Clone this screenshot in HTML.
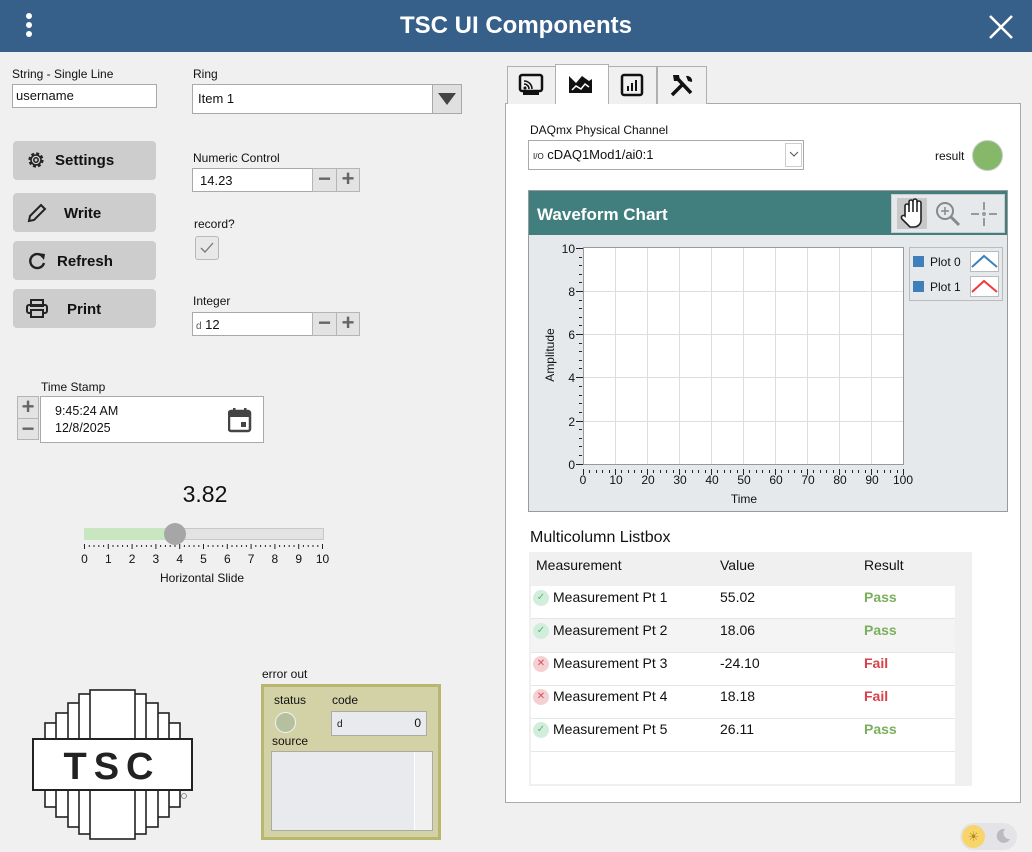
<!DOCTYPE html>
<html><head><meta charset="utf-8"><style>
*{box-sizing:border-box;margin:0;padding:0}
body{width:1032px;height:852px;background:#f0f0f0;font-family:"Liberation Sans",sans-serif;color:#111;position:relative;overflow:hidden}
.a{position:absolute}
.lbl{position:absolute;font-size:12px;white-space:nowrap}
.box{position:absolute;background:#fff;border:1px solid #a9a9a9}
.btn{position:absolute;left:13px;width:143px;height:39px;background:#cdcdcd;border-radius:4px;font-weight:bold;font-size:15px}
.pm{position:absolute;background:#e3e3e3;border:1px solid #b5b5b5;color:#666;font-size:22px;text-align:center;line-height:20px;font-weight:bold}
.tab{position:absolute;background:#f0f0f0;border:1px solid #b0b0b0;border-bottom:none}
.ic{position:absolute;left:0;top:0;width:16px;height:16px;border-radius:8px;font-size:10px;line-height:16px;text-align:center}
.ok{background:#d2eedb;color:#5bb37a}.ng{background:#f5d0d3;color:#d05060}
</style></head><body>
<div class="a" style="left:0;top:0;width:1032px;height:52px;background:#36608a"></div>
<div class="a" style="left:26px;top:13px;width:6px;height:6px;border-radius:3px;background:#fff"></div>
<div class="a" style="left:26px;top:22px;width:6px;height:6px;border-radius:3px;background:#fff"></div>
<div class="a" style="left:26px;top:31px;width:6px;height:6px;border-radius:3px;background:#fff"></div>
<div class="a" style="left:0;top:12px;width:1032px;text-align:center;color:#fff;font-weight:bold;font-size:24px">TSC UI Components</div>
<svg class="a" style="left:988px;top:15px" width="26" height="24"><path d="M2 1L24 23M24 1L2 23" stroke="#fff" stroke-width="2.6"/></svg>

<div class="lbl" style="left:12px;top:67px">String - Single Line</div>
<div class="box" style="left:12px;top:84px;width:145px;height:24px;font-size:13px;padding:3px 3px">username</div>
<div class="lbl" style="left:193px;top:67px">Ring</div>
<div class="box" style="left:192px;top:84px;width:241px;height:30px;font-size:13px;padding:6px 5px">Item 1</div>
<div class="a" style="left:432px;top:84px;width:30px;height:30px;background:#e0e0e0;border:1px solid #a9a9a9"></div>
<svg class="a" style="left:438px;top:93px" width="18" height="12"><path d="M0 0H18L9 12Z" fill="#444"/></svg>

<div class="btn" style="top:141px"><span class="a" style="left:42px;top:11px">Settings</span>
<svg class="a" style="left:13px;top:9px" width="20" height="20" viewBox="0 0 20 20"><circle cx="10" cy="10" r="6.5" fill="none" stroke="#222" stroke-width="2.2" stroke-dasharray="3 2.1"/><circle cx="10" cy="10" r="5" fill="none" stroke="#222" stroke-width="1.6"/><circle cx="10" cy="10" r="2.2" fill="none" stroke="#222" stroke-width="1.5"/></svg></div>
<div class="btn" style="top:193px"><span class="a" style="left:51px;top:12px">Write</span>
<svg class="a" style="left:14px;top:10px" width="20" height="20"><path d="M2 18L3 13L14 2L18 6L7 17Z" fill="none" stroke="#222" stroke-width="2"/></svg></div>
<div class="btn" style="top:241px"><span class="a" style="left:44px;top:12px">Refresh</span>
<svg class="a" style="left:14px;top:10px" width="20" height="20"><path d="M16 6A7 7 0 1 0 17 12" fill="none" stroke="#222" stroke-width="2.4"/><path d="M11 2L18 3L17 9Z" fill="#222"/></svg></div>
<div class="btn" style="top:289px"><span class="a" style="left:54px;top:12px">Print</span>
<svg class="a" style="left:13px;top:10px" width="22" height="20"><rect x="5" y="1" width="12" height="6" fill="none" stroke="#222" stroke-width="2"/><rect x="1" y="6" width="20" height="8" rx="2" fill="none" stroke="#222" stroke-width="2"/><rect x="5" y="11" width="12" height="7" fill="#cdcdcd" stroke="#222" stroke-width="2"/></svg></div>

<div class="lbl" style="left:193px;top:151px">Numeric Control</div>
<div class="box" style="left:192px;top:168px;width:121px;height:24px;font-size:13px;padding:4px 7px">14.23</div>
<div class="pm" style="left:312px;top:168px;width:25px;height:24px">−</div>
<div class="pm" style="left:336px;top:168px;width:24px;height:24px">+</div>
<div class="lbl" style="left:194px;top:217px">record?</div>
<div class="a" style="left:195px;top:236px;width:24px;height:24px;border:1px solid #b8b8b8;border-radius:3px;background:#e8e8e8"></div>
<svg class="a" style="left:199px;top:240px" width="16" height="16"><path d="M2 8L6 12L14 3" fill="none" stroke="#777" stroke-width="1.3"/></svg>
<div class="lbl" style="left:193px;top:294px">Integer</div>
<div class="box" style="left:192px;top:312px;width:121px;height:24px;font-size:13px;padding:4px 3px"><span style="font-size:10px;color:#555">d</span> 12</div>
<div class="pm" style="left:312px;top:312px;width:25px;height:24px">−</div>
<div class="pm" style="left:336px;top:312px;width:24px;height:24px">+</div>

<div class="lbl" style="left:41px;top:380px">Time Stamp</div>
<div class="pm" style="left:17px;top:396px;width:22px;height:23px">+</div>
<div class="pm" style="left:17px;top:418px;width:22px;height:22px">−</div>
<div class="box" style="left:40px;top:396px;width:224px;height:47px;font-size:12.5px;padding:6px 0 0 14px;line-height:17px">9:45:24 AM<br>12/8/2025</div>
<svg class="a" style="left:228px;top:407px" width="24" height="26"><rect x="1" y="4" width="21" height="20" rx="2" fill="none" stroke="#444" stroke-width="2.5"/><rect x="1" y="4" width="21" height="6" fill="#444"/><rect x="5" y="1" width="2.5" height="5" fill="#444"/><rect x="16" y="1" width="2.5" height="5" fill="#444"/><rect x="13" y="15" width="5" height="5" fill="#444"/></svg>

<div class="a" style="left:150px;top:481px;width:110px;text-align:center;font-size:23px">3.82</div>
<div class="a" style="left:84px;top:528px;width:240px;height:12px;background:#e3e3e3;border:1px solid #c8c8c8"></div>
<div class="a" style="left:84px;top:528px;width:91px;height:12px;background:#c8e6c0"></div>
<div class="a" style="left:164px;top:523px;width:22px;height:22px;border-radius:11px;background:#a6a6a6"></div>
<svg class="a" style="left:80px;top:542px" width="250" height="30">
<g stroke="#222" stroke-width="1">
<path d="M4.5 2v5M28.3 2v5M52.1 2v5M75.9 2v5M99.7 2v5M123.5 2v5M147.3 2v5M171.1 2v5M194.9 2v5M218.7 2v5M242.5 2v5"/>
<path d="M9.3 3v2M14 3v2M18.8 3v2M23.6 3v2M33 3v2M37.8 3v2M42.6 3v2M47.4 3v2M56.8 3v2M61.6 3v2M66.4 3v2M71.2 3v2M80.6 3v2M85.4 3v2M90.2 3v2M95 3v2M104.4 3v2M109.2 3v2M114 3v2M118.8 3v2M128.2 3v2M133 3v2M137.8 3v2M142.6 3v2M152 3v2M156.8 3v2M161.6 3v2M166.4 3v2M175.8 3v2M180.6 3v2M185.4 3v2M190.2 3v2M199.6 3v2M204.4 3v2M209.2 3v2M214 3v2M223.4 3v2M228.2 3v2M233 3v2M237.8 3v2"/></g>
<g font-size="12" fill="#111" text-anchor="middle" font-family="Liberation Sans"><text x="4.5" y="21">0</text><text x="28.3" y="21">1</text><text x="52.1" y="21">2</text><text x="75.9" y="21">3</text><text x="99.7" y="21">4</text><text x="123.5" y="21">5</text><text x="147.3" y="21">6</text><text x="171.1" y="21">7</text><text x="194.9" y="21">8</text><text x="218.7" y="21">9</text><text x="242.5" y="21">10</text></g></svg>
<div class="lbl" style="left:160px;top:571px">Horizontal Slide</div>

<svg class="a" style="left:30px;top:686px" width="170" height="158">
<g fill="#fff" stroke="#222" stroke-width="1.6">
<rect x="15" y="37" width="135" height="84"/>
<rect x="26" y="27" width="113" height="104"/>
<rect x="38" y="17" width="90" height="124"/>
<rect x="49" y="8" width="67" height="140"/>
<rect x="60" y="4" width="45" height="149"/>
<rect x="3" y="53" width="159" height="51" stroke-width="2"/></g>
<text x="82" y="93" text-anchor="middle" font-family="Liberation Sans" font-weight="bold" font-size="38" letter-spacing="7" fill="#222">TSC</text>
<circle cx="154" cy="110" r="2.5" fill="none" stroke="#777" stroke-width="0.8"/></svg>

<div class="lbl" style="left:262px;top:667px">error out</div>
<div class="a" style="left:261px;top:684px;width:180px;height:156px;background:#d3d2a6;border:3px solid #b9b76f"></div>
<div class="lbl" style="left:274px;top:693px">status</div>
<div class="lbl" style="left:332px;top:693px">code</div>
<div class="a" style="left:275px;top:712px;width:21px;height:21px;border-radius:11px;background:#b5c19e;border:1.5px solid #f4f4f4"></div>
<div class="a" style="left:331px;top:711px;width:96px;height:25px;background:#e8eaed;border:1px solid #aaa;font-size:12px;padding:4px 5px"><span style="font-size:10px">d</span><span style="float:right">0</span></div>
<div class="lbl" style="left:272px;top:734px">source</div>
<div class="a" style="left:271px;top:751px;width:162px;height:80px;background:#e8eaed;border:1px solid #aaa"></div>
<div class="a" style="left:414px;top:752px;width:18px;height:78px;background:#f0f0f0;border-left:1px solid #fff"></div>

<div class="a" style="left:505px;top:103px;width:516px;height:700px;background:#fff;border:1px solid #aaa"></div>
<div class="tab" style="left:507px;top:66px;width:49px;height:38px"></div>
<div class="tab" style="left:555px;top:64px;width:54px;height:40px;background:#fff"></div>
<div class="tab" style="left:608px;top:66px;width:49px;height:38px"></div>
<div class="tab" style="left:657px;top:66px;width:50px;height:38px"></div>
<svg class="a" style="left:518px;top:73px" width="26" height="24"><rect x="2" y="2" width="22" height="16" rx="2" fill="none" stroke="#111" stroke-width="2.5"/><rect x="5" y="19" width="16" height="3" fill="#111"/><path d="M6 8a8 8 0 0 1 8 8M6 11a5 5 0 0 1 5 5" fill="none" stroke="#111" stroke-width="1.6"/><circle cx="7" cy="15" r="1.5" fill="#111"/></svg>
<svg class="a" style="left:568px;top:73px" width="26" height="22"><path d="M1 20V3L8 10L14 3L21 8L24 6V20Z" fill="#111"/><path d="M4 17L8 13L13 16L17 11L21 14" fill="none" stroke="#fff" stroke-width="1.5"/></svg>
<svg class="a" style="left:620px;top:73px" width="24" height="24"><rect x="2" y="2" width="20" height="20" rx="2" fill="none" stroke="#111" stroke-width="2.5"/><rect x="7" y="13" width="2" height="5" fill="#111"/><rect x="11" y="10" width="2" height="8" fill="#111"/><rect x="15" y="7" width="2" height="11" fill="#111"/></svg>
<svg class="a" style="left:669px;top:73px" width="26" height="24"><path d="M3 22L15 10M7 4L22 20" stroke="#111" stroke-width="3.5"/><path d="M4 2L10 2L11 8L5 8Z M17 3a5 5 0 0 1 6 6L19 8Z" fill="#111"/></svg>

<div class="lbl" style="left:530px;top:123px">DAQmx Physical Channel</div>
<div class="box" style="left:528px;top:140px;width:276px;height:30px;font-size:13px;padding:6px 4px"><span style="font-size:8px">I/O</span> cDAQ1Mod1/ai0:1</div>
<div class="a" style="left:785px;top:143px;width:17px;height:24px;border:1px solid #ccc;background:#fff"></div>
<svg class="a" style="left:788px;top:150px" width="12" height="8"><path d="M2 2L6 6L10 2" fill="none" stroke="#555" stroke-width="1"/></svg>
<div class="lbl" style="left:935px;top:149px">result</div>
<div class="a" style="left:972px;top:140px;width:31px;height:31px;border-radius:16px;background:#86b86a;border:1.5px solid #ccc"></div>

<div class="a" style="left:528px;top:190px;width:480px;height:322px;background:#e6e9ec;border:1px solid #9a9a9a"></div>
<div class="a" style="left:529px;top:191px;width:478px;height:44px;background:#417f7e"></div>
<div class="a" style="left:537px;top:205px;color:#fff;font-weight:bold;font-size:17px">Waveform Chart</div>
<div class="a" style="left:891px;top:194px;width:114px;height:39px;background:#e6e9ec;border:1px solid #ccc"></div>
<div class="a" style="left:897px;top:198px;width:30px;height:31px;background:#c8c8c8"></div>
<svg class="a" style="left:899px;top:198px" width="105" height="32">
<path d="M6 17V8a2 2 0 0 1 4 0V14V4a2 2 0 0 1 4 0V14V3a2 2 0 0 1 4 0V14V5a2 2 0 0 1 4 0V22a7 7 0 0 1-7 7H11L3 21a2 2 0 0 1 3-3Z" fill="#fff" stroke="#222" stroke-width="1.6"/>
<circle cx="46" cy="13" r="8" fill="none" stroke="#888" stroke-width="2"/><path d="M52 19L60 27" stroke="#888" stroke-width="3"/><path d="M42 13h8M46 9v8" stroke="#888" stroke-width="1.5"/>
<path d="M85 4v8M85 20v8M72 16h8M90 16h8" stroke="#999" stroke-width="2"/><circle cx="85" cy="16" r="2" fill="#999"/></svg>

<svg class="a" style="left:529px;top:236px" width="478" height="275" font-family="Liberation Sans">
<rect x="54.5" y="11.5" width="320" height="217" fill="#fff" stroke="#999"/>
<g stroke="#ddd" stroke-width="1">
<path d="M86.5 12v216M118.5 12v216M150.5 12v216M182.5 12v216M214.5 12v216M246.5 12v216M278.5 12v216M310.5 12v216M342.5 12v216"/>
<path d="M55 55.5h319M55 98.5h319M55 141.5h319M55 185.5h319"/></g>
<g stroke="#222"><path d="M47 12.5h7M47 55.5h7M47 98.5h7M47 141.5h7M47 185.5h7M47 228.5h7"/>
<path d="M54.5 233v6M86.5 233v6M118.5 233v6M150.5 233v6M182.5 233v6M214.5 233v6M246.5 233v6M278.5 233v6M310.5 233v6M342.5 233v6M374.5 233v6"/></g>
<g stroke="#222" stroke-width="1">
<path d="M50 21.5h3M50 29.5h3M50 38.5h3M50 46.5h3M50 64.5h3M50 72.5h3M50 81.5h3M50 89.5h3M50 107.5h3M50 115.5h3M50 124.5h3M50 132.5h3M50 150.5h3M50 159.5h3M50 167.5h3M50 176.5h3M50 193.5h3M50 202.5h3M50 210.5h3M50 219.5h3"/>
<path d="M60.5 234v3M67.5 234v3M73.5 234v3M80.5 234v3M92.5 234v3M99.5 234v3M105.5 234v3M112.5 234v3M124.5 234v3M131.5 234v3M137.5 234v3M144.5 234v3M156.5 234v3M163.5 234v3M169.5 234v3M176.5 234v3M188.5 234v3M195.5 234v3M201.5 234v3M208.5 234v3M220.5 234v3M227.5 234v3M233.5 234v3M240.5 234v3M252.5 234v3M259.5 234v3M265.5 234v3M272.5 234v3M284.5 234v3M291.5 234v3M297.5 234v3M304.5 234v3M316.5 234v3M323.5 234v3M329.5 234v3M336.5 234v3M348.5 234v3M355.5 234v3M361.5 234v3M368.5 234v3"/></g>
<g font-size="12" fill="#111" text-anchor="end"><text x="46" y="17">10</text><text x="46" y="60">8</text><text x="46" y="103">6</text><text x="46" y="146">4</text><text x="46" y="190">2</text><text x="46" y="233">0</text></g>
<g font-size="12" fill="#111" text-anchor="middle"><text x="54" y="248">0</text><text x="87" y="248">10</text><text x="119" y="248">20</text><text x="151" y="248">30</text><text x="183" y="248">40</text><text x="215" y="248">50</text><text x="247" y="248">60</text><text x="279" y="248">70</text><text x="311" y="248">80</text><text x="343" y="248">90</text><text x="374" y="248">100</text>
<text x="215" y="267">Time</text></g>
<text transform="translate(25 119) rotate(-90)" font-size="12" fill="#111" text-anchor="middle">Amplitude</text>
<rect x="380.5" y="11.5" width="93" height="53" fill="#e6e9ec" stroke="#bbb"/>
<rect x="384" y="20" width="11" height="11" fill="#3f7fba"/><rect x="384" y="45" width="11" height="11" fill="#3f7fba"/>
<text x="401" y="30" font-size="12" fill="#111">Plot 0</text><text x="401" y="55" font-size="12" fill="#111">Plot 1</text>
<rect x="441.5" y="15.5" width="28" height="20" fill="#fff" stroke="#bbb"/><rect x="441.5" y="40.5" width="28" height="20" fill="#fff" stroke="#bbb"/>
<path d="M443 31L455 20L468 31" fill="none" stroke="#3f7fba" stroke-width="2"/>
<path d="M443 56L455 45L468 56" fill="none" stroke="#f03a3a" stroke-width="2"/>
</svg>

<div class="a" style="left:530px;top:529px;font-size:16px">Multicolumn Listbox</div>
<div class="a" style="left:529px;top:552px;width:443px;height:234px;background:#f0f0f0"></div>
<div class="a" style="left:531px;top:586px;width:424px;height:198px;background:#fff"></div>
<div class="a" style="left:531px;top:619px;width:424px;height:33px;background:#f4f4f4"></div>
<div class="a" style="left:531px;top:618px;width:424px;height:1px;background:#e6e6e6"></div>
<div class="a" style="left:531px;top:652px;width:424px;height:1px;background:#e6e6e6"></div>
<div class="a" style="left:531px;top:685px;width:424px;height:1px;background:#e6e6e6"></div>
<div class="a" style="left:531px;top:718px;width:424px;height:1px;background:#e6e6e6"></div>
<div class="a" style="left:531px;top:751px;width:424px;height:1px;background:#e6e6e6"></div>
<div class="a" style="left:536px;top:557px;font-size:14px">Measurement</div>
<div class="a" style="left:720px;top:557px;font-size:14px">Value</div>
<div class="a" style="left:864px;top:557px;font-size:14px">Result</div>
<div class="a" style="left:533px;top:590px;font-size:14px;line-height:33px;width:420px">
<div style="position:relative;height:33px"><span class="ic ok">✓</span><span style="position:absolute;left:20px;top:-9px">Measurement Pt 1</span><span style="position:absolute;left:187px;top:-9px">55.02</span><span style="position:absolute;left:331px;top:-9px;color:#7ab05c;font-weight:bold">Pass</span></div>
<div style="position:relative;height:33px"><span class="ic ok">✓</span><span style="position:absolute;left:20px;top:-9px">Measurement Pt 2</span><span style="position:absolute;left:187px;top:-9px">18.06</span><span style="position:absolute;left:331px;top:-9px;color:#7ab05c;font-weight:bold">Pass</span></div>
<div style="position:relative;height:33px"><span class="ic ng">✕</span><span style="position:absolute;left:20px;top:-9px">Measurement Pt 3</span><span style="position:absolute;left:187px;top:-9px">-24.10</span><span style="position:absolute;left:331px;top:-9px;color:#d9414a;font-weight:bold">Fail</span></div>
<div style="position:relative;height:33px"><span class="ic ng">✕</span><span style="position:absolute;left:20px;top:-9px">Measurement Pt 4</span><span style="position:absolute;left:187px;top:-9px">18.18</span><span style="position:absolute;left:331px;top:-9px;color:#d9414a;font-weight:bold">Fail</span></div>
<div style="position:relative;height:33px"><span class="ic ok">✓</span><span style="position:absolute;left:20px;top:-9px">Measurement Pt 5</span><span style="position:absolute;left:187px;top:-9px">26.11</span><span style="position:absolute;left:331px;top:-9px;color:#7ab05c;font-weight:bold">Pass</span></div>
</div>

<div class="a" style="left:960px;top:823px;width:57px;height:27px;border-radius:14px;background:#e4e4e8"></div>
<div class="a" style="left:962px;top:825px;width:23px;height:23px;border-radius:12px;background:#f7d56a;color:#b08a20;font-size:13px;text-align:center;line-height:23px">☀</div>
<svg class="a" style="left:995px;top:828px" width="16" height="16"><path d="M10 1A7 7 0 1 0 15 11A6 6 0 0 1 10 1Z" fill="#bbb"/></svg>
</body></html>
